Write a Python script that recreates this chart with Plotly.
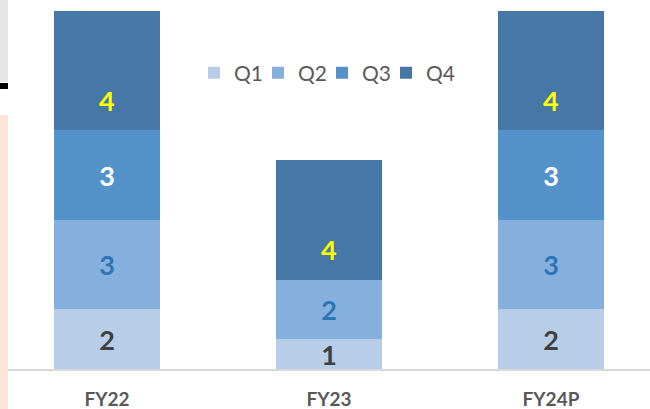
import plotly.graph_objects as go

categories = ["FY22", "FY23", "FY24P"]
q1 = [2, 1, 2]
q2 = [3, 2, 3]
q3 = [3, 0, 3]
q4 = [4, 4, 4]
series_names = ["Q1", "Q2", "Q3", "Q4"]

series = [q1, q2, q3, q4]
bar_colors = ["#b7cde8", "#85b0de", "#5592ca", "#4677a6"]
label_colors = ["#404040", "#2e75b6", "#ffffff", "#ffff00"]
legend_widths = [19, 19, 19, 40]

FONT = "Lato"

fig = go.Figure()
for i, (name, vals, col, lcol) in enumerate(zip(series_names, series, bar_colors, label_colors)):
    is_top = i == len(series) - 1
    fig.add_trace(go.Bar(
        name=name,
        x=categories,
        y=vals,
        marker=dict(color=col, line=dict(width=0)),
        text=None if is_top else [str(v) if v else "" for v in vals],
        textposition="none" if is_top else "inside",
        insidetextanchor="middle",
        constraintext="none",
        textangle=0,
        textfont=dict(family=FONT, size=27, color=lcol, weight="bold"),
        legendwidth=legend_widths[i],
        hoverinfo="skip",
    ))

# Q4 labels sit in the lower part of the top segment (as in the original)
annotations = []
for j, cat in enumerate(categories):
    base = q1[j] + q2[j] + q3[j]
    annotations.append(dict(
        x=cat, y=base + 1, xref="x", yref="y",
        text=str(q4[j]), showarrow=False,
        font=dict(family=FONT, size=27, color=label_colors[3], weight="bold"),
        xanchor="center", yanchor="middle",
    ))

fig.update_layout(
    width=650, height=409,
    margin=dict(l=8, r=0, t=11, b=40),
    barmode="stack",
    bargap=0.523,
    paper_bgcolor="white",
    plot_bgcolor="white",
    showlegend=True,
    legend=dict(
        orientation="h",
        x=(194 - 8) / 642, xanchor="left",
        y=(369 - 73) / 358, yanchor="middle",
        font=dict(family=FONT, size=21, color="#595959"),
        bgcolor="rgba(0,0,0,0)",
        traceorder="normal",
    ),
    xaxis=dict(
        type="category",
        range=[-0.446, 2.446],
        showgrid=False,
        showline=True, linecolor="#d9d9d9", linewidth=2,
        ticks="",
        ticklabelstandoff=12,
        tickfont=dict(family=FONT, size=19, color="#595959", weight="bold"),
        fixedrange=True,
    ),
    yaxis=dict(
        range=[0, 12],
        visible=False,
        fixedrange=True,
    ),
    annotations=annotations,
    shapes=[
        dict(type="rect", xref="paper", yref="paper",
             x0=-8 / 642, x1=0, y0=(369 - 82) / 358, y1=369 / 358,
             fillcolor="#e6e6e6", line=dict(width=0)),
        dict(type="rect", xref="paper", yref="paper",
             x0=-8 / 642, x1=0, y0=(369 - 89) / 358, y1=(369 - 83) / 358,
             fillcolor="#000000", line=dict(width=0)),
        dict(type="rect", xref="paper", yref="paper",
             x0=-8 / 642, x1=0, y0=(369 - 409) / 358, y1=(369 - 115) / 358,
             fillcolor="#fbe5d6", line=dict(width=0)),
    ],
)

fig.write_html("out.html", config={"displayModeBar": False},
               post_script="document.body.style.margin='0';")
